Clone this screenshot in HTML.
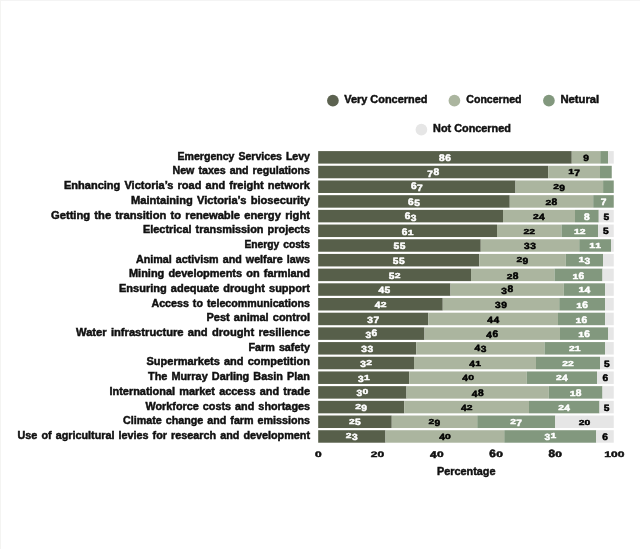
<!DOCTYPE html>
<html><head><meta charset="utf-8"><title>Chart</title>
<style>
html,body{margin:0;padding:0;background:#fff;}
body{width:640px;height:549px;overflow:hidden;}
svg{display:block;will-change:transform;}
text{font-family:"Liberation Sans",sans-serif;font-weight:bold;}
.l{font-size:10.0px;fill:#111;stroke:#111;stroke-width:0.45px;word-spacing:1.0px;}
.g{font-size:10.6px;fill:#111;stroke:#111;stroke-width:0.45px;}
.d{font-size:10px;text-rendering:geometricPrecision;text-anchor:middle;stroke-width:0.55px;stroke-linejoin:round;}
</style></head><body>
<svg width="640" height="549" viewBox="0 0 640 549">
<rect width="640" height="549" fill="#ffffff"/>
<rect x="0" y="0" width="640" height="1" fill="#f4f4f4"/>
<rect x="0" y="0" width="1" height="549" fill="#f4f4f2"/>
<g>
<circle cx="332.9" cy="100.7" r="5.85" fill="#5c6250"/>
<text class="g" x="344.2" y="103" textLength="83.3" lengthAdjust="spacingAndGlyphs">Very Concerned</text>
<circle cx="454.4" cy="100.7" r="5.85" fill="#abb59f"/>
<text class="g" x="466.3" y="103" textLength="55.2" lengthAdjust="spacingAndGlyphs">Concerned</text>
<circle cx="548.9" cy="100.7" r="5.85" fill="#82987e"/>
<text class="g" x="560.4" y="103" textLength="38.8" lengthAdjust="spacingAndGlyphs">Netural</text>
<circle cx="421.4" cy="129.7" r="5.85" fill="#e6e6e6"/>
<text class="g" x="433.1" y="132" textLength="77.8" lengthAdjust="spacingAndGlyphs">Not Concerned</text>
<rect x="318.20" y="151.10" width="253.55" height="12.50" fill="#575f4a"/>
<rect x="571.75" y="151.10" width="28.50" height="12.50" fill="#abb59f"/>
<rect x="600.25" y="151.10" width="7.85" height="12.50" fill="#82987e"/>
<rect x="608.10" y="151.10" width="5.65" height="12.50" fill="#e6e6e6"/>
<text class="l" x="177.50" y="159.80" textLength="132.50" lengthAdjust="spacingAndGlyphs">Emergency Services Levy</text>
<text class="d" transform="translate(441.88,161) scale(1.020,0.960)" fill="#fff" stroke="#fff" stroke-width="0.6">8</text><text class="d" transform="translate(448.08,161) scale(1.020,0.960)" fill="#fff" stroke="#fff" stroke-width="0.6">6</text>
<text class="d" transform="translate(586.00,161) scale(1.020,0.900)" fill="#000" stroke="#000" stroke-width="0.6">9</text>
<rect x="318.20" y="165.79" width="230.05" height="12.50" fill="#575f4a"/>
<rect x="548.25" y="165.79" width="51.75" height="12.50" fill="#abb59f"/>
<rect x="600.00" y="165.79" width="11.75" height="12.50" fill="#82987e"/>
<text class="l" x="172.50" y="174.49" textLength="137.50" lengthAdjust="spacingAndGlyphs">New taxes and regulations</text>
<text class="d" transform="translate(430.13,177) scale(1.020,0.900)" fill="#fff" stroke="#fff" stroke-width="0.6">7</text><text class="d" transform="translate(436.33,175) scale(1.020,0.960)" fill="#fff" stroke="#fff" stroke-width="0.6">8</text>
<text class="d" transform="translate(571.02,174) scale(1.040,0.720)" fill="#000" stroke="#000" stroke-width="0.85">1</text><text class="d" transform="translate(577.02,176) scale(1.020,0.900)" fill="#000" stroke="#000" stroke-width="0.6">7</text>
<rect x="318.20" y="180.48" width="197.30" height="12.50" fill="#575f4a"/>
<rect x="515.50" y="180.48" width="87.60" height="12.50" fill="#abb59f"/>
<rect x="603.10" y="180.48" width="10.65" height="12.50" fill="#82987e"/>
<text class="l" x="64.00" y="189.18" textLength="246.00" lengthAdjust="spacingAndGlyphs">Enhancing Victoria’s road and freight network</text>
<text class="d" transform="translate(413.75,189) scale(1.020,0.960)" fill="#fff" stroke="#fff" stroke-width="0.6">6</text><text class="d" transform="translate(419.95,191) scale(1.020,0.900)" fill="#fff" stroke="#fff" stroke-width="0.6">7</text>
<text class="d" transform="translate(556.20,189) scale(1.040,0.720)" fill="#000" stroke="#000" stroke-width="0.85">2</text><text class="d" transform="translate(562.20,191) scale(1.020,0.900)" fill="#000" stroke="#000" stroke-width="0.6">9</text>
<rect x="318.20" y="195.17" width="191.55" height="12.50" fill="#575f4a"/>
<rect x="509.75" y="195.17" width="83.45" height="12.50" fill="#abb59f"/>
<rect x="593.20" y="195.17" width="20.55" height="12.50" fill="#82987e"/>
<text class="l" x="131.00" y="203.87" textLength="179.00" lengthAdjust="spacingAndGlyphs">Maintaining Victoria’s biosecurity</text>
<text class="d" transform="translate(410.88,205) scale(1.020,0.960)" fill="#fff" stroke="#fff" stroke-width="0.6">6</text><text class="d" transform="translate(417.08,206) scale(1.020,0.900)" fill="#fff" stroke="#fff" stroke-width="0.6">5</text>
<text class="d" transform="translate(548.38,205) scale(1.040,0.720)" fill="#000" stroke="#000" stroke-width="0.85">2</text><text class="d" transform="translate(554.38,205) scale(1.020,0.960)" fill="#000" stroke="#000" stroke-width="0.6">8</text>
<text class="d" transform="translate(603.48,205) scale(1.020,0.900)" fill="#fff" stroke="#fff" stroke-width="0.6">7</text>
<rect x="318.20" y="209.86" width="184.80" height="12.50" fill="#575f4a"/>
<rect x="503.00" y="209.86" width="72.00" height="12.50" fill="#abb59f"/>
<rect x="575.00" y="209.86" width="23.75" height="12.50" fill="#82987e"/>
<rect x="598.75" y="209.86" width="15.00" height="12.50" fill="#e6e6e6"/>
<text class="l" x="51.00" y="218.56" textLength="259.00" lengthAdjust="spacingAndGlyphs">Getting the transition to renewable energy right</text>
<text class="d" transform="translate(407.50,219) scale(1.020,0.960)" fill="#fff" stroke="#fff" stroke-width="0.6">6</text><text class="d" transform="translate(413.70,221) scale(1.020,0.900)" fill="#fff" stroke="#fff" stroke-width="0.6">3</text>
<text class="d" transform="translate(535.90,219) scale(1.040,0.720)" fill="#000" stroke="#000" stroke-width="0.85">2</text><text class="d" transform="translate(541.90,220) scale(1.020,0.900)" fill="#000" stroke="#000" stroke-width="0.6">4</text>
<text class="d" transform="translate(586.88,220) scale(1.020,0.960)" fill="#fff" stroke="#fff" stroke-width="0.6">8</text>
<text class="d" transform="translate(606.25,220) scale(1.020,0.900)" fill="#000" stroke="#000" stroke-width="0.6">5</text>
<rect x="318.20" y="224.55" width="178.80" height="12.50" fill="#575f4a"/>
<rect x="497.00" y="224.55" width="64.50" height="12.50" fill="#abb59f"/>
<rect x="561.50" y="224.55" width="36.50" height="12.50" fill="#82987e"/>
<rect x="598.00" y="224.55" width="15.75" height="12.50" fill="#e6e6e6"/>
<text class="l" x="143.00" y="233.25" textLength="167.00" lengthAdjust="spacingAndGlyphs">Electrical transmission projects</text>
<text class="d" transform="translate(404.70,235) scale(1.020,0.960)" fill="#fff" stroke="#fff" stroke-width="0.6">6</text><text class="d" transform="translate(410.70,235) scale(1.040,0.720)" fill="#fff" stroke="#fff" stroke-width="0.85">1</text>
<text class="d" transform="translate(526.35,234) scale(1.040,0.720)" fill="#000" stroke="#000" stroke-width="0.85">2</text><text class="d" transform="translate(532.15,234) scale(1.040,0.720)" fill="#000" stroke="#000" stroke-width="0.85">2</text>
<text class="d" transform="translate(576.85,234) scale(1.040,0.720)" fill="#fff" stroke="#fff" stroke-width="0.85">1</text><text class="d" transform="translate(582.65,234) scale(1.040,0.720)" fill="#fff" stroke="#fff" stroke-width="0.85">2</text>
<text class="d" transform="translate(605.88,234) scale(1.020,0.900)" fill="#000" stroke="#000" stroke-width="0.6">5</text>
<rect x="318.20" y="239.24" width="162.55" height="12.50" fill="#575f4a"/>
<rect x="480.75" y="239.24" width="98.50" height="12.50" fill="#abb59f"/>
<rect x="579.25" y="239.24" width="31.75" height="12.50" fill="#82987e"/>
<rect x="611.00" y="239.24" width="2.75" height="12.50" fill="#e6e6e6"/>
<text class="l" x="244.50" y="247.94" textLength="65.50" lengthAdjust="spacingAndGlyphs">Energy costs</text>
<text class="d" transform="translate(396.38,249) scale(1.020,0.900)" fill="#fff" stroke="#fff" stroke-width="0.6">5</text><text class="d" transform="translate(402.58,249) scale(1.020,0.900)" fill="#fff" stroke="#fff" stroke-width="0.6">5</text>
<text class="d" transform="translate(526.90,249) scale(1.020,0.900)" fill="#000" stroke="#000" stroke-width="0.6">3</text><text class="d" transform="translate(533.10,249) scale(1.020,0.900)" fill="#000" stroke="#000" stroke-width="0.6">3</text>
<text class="d" transform="translate(592.23,248) scale(1.040,0.720)" fill="#fff" stroke="#fff" stroke-width="0.85">1</text><text class="d" transform="translate(598.02,248) scale(1.040,0.720)" fill="#fff" stroke="#fff" stroke-width="0.85">1</text>
<rect x="318.20" y="253.93" width="161.05" height="12.50" fill="#575f4a"/>
<rect x="479.25" y="253.93" width="86.50" height="12.50" fill="#abb59f"/>
<rect x="565.75" y="253.93" width="37.25" height="12.50" fill="#82987e"/>
<rect x="603.00" y="253.93" width="10.75" height="12.50" fill="#e6e6e6"/>
<text class="l" x="136.00" y="262.63" textLength="174.00" lengthAdjust="spacingAndGlyphs">Animal activism and welfare laws</text>
<text class="d" transform="translate(395.63,264) scale(1.020,0.900)" fill="#fff" stroke="#fff" stroke-width="0.6">5</text><text class="d" transform="translate(401.83,264) scale(1.020,0.900)" fill="#fff" stroke="#fff" stroke-width="0.6">5</text>
<text class="d" transform="translate(519.40,262) scale(1.040,0.720)" fill="#000" stroke="#000" stroke-width="0.85">2</text><text class="d" transform="translate(525.40,264) scale(1.020,0.900)" fill="#000" stroke="#000" stroke-width="0.6">9</text>
<text class="d" transform="translate(581.27,262) scale(1.040,0.720)" fill="#fff" stroke="#fff" stroke-width="0.85">1</text><text class="d" transform="translate(587.27,264) scale(1.020,0.900)" fill="#fff" stroke="#fff" stroke-width="0.6">3</text>
<rect x="318.20" y="268.62" width="152.80" height="12.50" fill="#575f4a"/>
<rect x="471.00" y="268.62" width="83.50" height="12.50" fill="#abb59f"/>
<rect x="554.50" y="268.62" width="48.00" height="12.50" fill="#82987e"/>
<rect x="602.50" y="268.62" width="11.25" height="12.50" fill="#e6e6e6"/>
<text class="l" x="129.00" y="277.32" textLength="181.00" lengthAdjust="spacingAndGlyphs">Mining developments on farmland</text>
<text class="d" transform="translate(391.70,279) scale(1.020,0.900)" fill="#fff" stroke="#fff" stroke-width="0.6">5</text><text class="d" transform="translate(397.70,278) scale(1.040,0.720)" fill="#fff" stroke="#fff" stroke-width="0.85">2</text>
<text class="d" transform="translate(509.65,279) scale(1.040,0.720)" fill="#000" stroke="#000" stroke-width="0.85">2</text><text class="d" transform="translate(515.65,279) scale(1.020,0.960)" fill="#000" stroke="#000" stroke-width="0.6">8</text>
<text class="d" transform="translate(575.40,279) scale(1.040,0.720)" fill="#fff" stroke="#fff" stroke-width="0.85">1</text><text class="d" transform="translate(581.40,279) scale(1.020,0.960)" fill="#fff" stroke="#fff" stroke-width="0.6">6</text>
<rect x="318.20" y="283.31" width="132.30" height="12.50" fill="#575f4a"/>
<rect x="450.50" y="283.31" width="113.25" height="12.50" fill="#abb59f"/>
<rect x="563.75" y="283.31" width="41.35" height="12.50" fill="#82987e"/>
<rect x="605.10" y="283.31" width="8.65" height="12.50" fill="#e6e6e6"/>
<text class="l" x="119.00" y="292.01" textLength="191.00" lengthAdjust="spacingAndGlyphs">Ensuring adequate drought support</text>
<text class="d" transform="translate(381.25,293) scale(1.020,0.900)" fill="#fff" stroke="#fff" stroke-width="0.6">4</text><text class="d" transform="translate(387.45,293) scale(1.020,0.900)" fill="#fff" stroke="#fff" stroke-width="0.6">5</text>
<text class="d" transform="translate(504.03,294) scale(1.020,0.900)" fill="#000" stroke="#000" stroke-width="0.6">3</text><text class="d" transform="translate(510.23,292) scale(1.020,0.960)" fill="#000" stroke="#000" stroke-width="0.6">8</text>
<text class="d" transform="translate(581.32,292) scale(1.040,0.720)" fill="#fff" stroke="#fff" stroke-width="0.85">1</text><text class="d" transform="translate(587.32,293) scale(1.020,0.900)" fill="#fff" stroke="#fff" stroke-width="0.6">4</text>
<rect x="318.20" y="298.00" width="124.55" height="12.50" fill="#575f4a"/>
<rect x="442.75" y="298.00" width="116.50" height="12.50" fill="#abb59f"/>
<rect x="559.25" y="298.00" width="45.85" height="12.50" fill="#82987e"/>
<rect x="605.10" y="298.00" width="8.65" height="12.50" fill="#e6e6e6"/>
<text class="l" x="151.50" y="306.70" textLength="158.50" lengthAdjust="spacingAndGlyphs">Access to telecommunications</text>
<text class="d" transform="translate(377.58,308) scale(1.020,0.900)" fill="#fff" stroke="#fff" stroke-width="0.6">4</text><text class="d" transform="translate(383.57,307) scale(1.040,0.720)" fill="#fff" stroke="#fff" stroke-width="0.85">2</text>
<text class="d" transform="translate(497.90,308) scale(1.020,0.900)" fill="#000" stroke="#000" stroke-width="0.6">3</text><text class="d" transform="translate(504.10,308) scale(1.020,0.900)" fill="#000" stroke="#000" stroke-width="0.6">9</text>
<text class="d" transform="translate(579.07,308) scale(1.040,0.720)" fill="#fff" stroke="#fff" stroke-width="0.85">1</text><text class="d" transform="translate(585.07,308) scale(1.020,0.960)" fill="#fff" stroke="#fff" stroke-width="0.6">6</text>
<rect x="318.20" y="312.69" width="110.05" height="12.50" fill="#575f4a"/>
<rect x="428.25" y="312.69" width="129.75" height="12.50" fill="#abb59f"/>
<rect x="558.00" y="312.69" width="47.10" height="12.50" fill="#82987e"/>
<rect x="605.10" y="312.69" width="8.65" height="12.50" fill="#e6e6e6"/>
<text class="l" x="206.50" y="321.39" textLength="103.50" lengthAdjust="spacingAndGlyphs">Pest animal control</text>
<text class="d" transform="translate(370.13,323) scale(1.020,0.900)" fill="#fff" stroke="#fff" stroke-width="0.6">3</text><text class="d" transform="translate(376.33,323) scale(1.020,0.900)" fill="#fff" stroke="#fff" stroke-width="0.6">7</text>
<text class="d" transform="translate(490.03,323) scale(1.020,0.900)" fill="#000" stroke="#000" stroke-width="0.6">4</text><text class="d" transform="translate(496.23,323) scale(1.020,0.900)" fill="#000" stroke="#000" stroke-width="0.6">4</text>
<text class="d" transform="translate(578.45,323) scale(1.040,0.720)" fill="#fff" stroke="#fff" stroke-width="0.85">1</text><text class="d" transform="translate(584.45,323) scale(1.020,0.960)" fill="#fff" stroke="#fff" stroke-width="0.6">6</text>
<rect x="318.20" y="327.38" width="106.30" height="12.50" fill="#575f4a"/>
<rect x="424.50" y="327.38" width="135.50" height="12.50" fill="#abb59f"/>
<rect x="560.00" y="327.38" width="48.25" height="12.50" fill="#82987e"/>
<rect x="608.25" y="327.38" width="5.50" height="12.50" fill="#e6e6e6"/>
<text class="l" x="76.00" y="336.08" textLength="234.00" lengthAdjust="spacingAndGlyphs">Water infrastructure and drought resilience</text>
<text class="d" transform="translate(368.25,338) scale(1.020,0.900)" fill="#fff" stroke="#fff" stroke-width="0.6">3</text><text class="d" transform="translate(374.45,336) scale(1.020,0.960)" fill="#fff" stroke="#fff" stroke-width="0.6">6</text>
<text class="d" transform="translate(489.15,338) scale(1.020,0.900)" fill="#000" stroke="#000" stroke-width="0.6">4</text><text class="d" transform="translate(495.35,337) scale(1.020,0.960)" fill="#000" stroke="#000" stroke-width="0.6">6</text>
<text class="d" transform="translate(581.02,337) scale(1.040,0.720)" fill="#fff" stroke="#fff" stroke-width="0.85">1</text><text class="d" transform="translate(587.02,337) scale(1.020,0.960)" fill="#fff" stroke="#fff" stroke-width="0.6">6</text>
<rect x="318.20" y="342.07" width="98.05" height="12.50" fill="#575f4a"/>
<rect x="416.25" y="342.07" width="128.25" height="12.50" fill="#abb59f"/>
<rect x="544.50" y="342.07" width="60.50" height="12.50" fill="#82987e"/>
<rect x="605.00" y="342.07" width="8.75" height="12.50" fill="#e6e6e6"/>
<text class="l" x="248.50" y="350.77" textLength="61.50" lengthAdjust="spacingAndGlyphs">Farm safety</text>
<text class="d" transform="translate(364.13,352) scale(1.020,0.900)" fill="#fff" stroke="#fff" stroke-width="0.6">3</text><text class="d" transform="translate(370.33,352) scale(1.020,0.900)" fill="#fff" stroke="#fff" stroke-width="0.6">3</text>
<text class="d" transform="translate(477.28,351) scale(1.020,0.900)" fill="#000" stroke="#000" stroke-width="0.6">4</text><text class="d" transform="translate(483.48,352) scale(1.020,0.900)" fill="#000" stroke="#000" stroke-width="0.6">3</text>
<text class="d" transform="translate(571.85,351) scale(1.040,0.720)" fill="#fff" stroke="#fff" stroke-width="0.85">2</text><text class="d" transform="translate(577.65,351) scale(1.040,0.720)" fill="#fff" stroke="#fff" stroke-width="0.85">1</text>
<rect x="318.20" y="356.76" width="95.80" height="12.50" fill="#575f4a"/>
<rect x="414.00" y="356.76" width="122.00" height="12.50" fill="#abb59f"/>
<rect x="536.00" y="356.76" width="64.00" height="12.50" fill="#82987e"/>
<rect x="600.00" y="356.76" width="13.75" height="12.50" fill="#e6e6e6"/>
<text class="l" x="146.50" y="365.46" textLength="163.50" lengthAdjust="spacingAndGlyphs">Supermarkets and competition</text>
<text class="d" transform="translate(363.20,367) scale(1.020,0.900)" fill="#fff" stroke="#fff" stroke-width="0.6">3</text><text class="d" transform="translate(369.20,365) scale(1.040,0.720)" fill="#fff" stroke="#fff" stroke-width="0.85">2</text>
<text class="d" transform="translate(472.10,367) scale(1.020,0.900)" fill="#000" stroke="#000" stroke-width="0.6">4</text><text class="d" transform="translate(478.10,366) scale(1.040,0.720)" fill="#000" stroke="#000" stroke-width="0.85">1</text>
<text class="d" transform="translate(565.10,366) scale(1.040,0.720)" fill="#fff" stroke="#fff" stroke-width="0.85">2</text><text class="d" transform="translate(570.90,366) scale(1.040,0.720)" fill="#fff" stroke="#fff" stroke-width="0.85">2</text>
<text class="d" transform="translate(606.88,367) scale(1.020,0.900)" fill="#000" stroke="#000" stroke-width="0.6">5</text>
<rect x="318.20" y="371.45" width="91.05" height="12.50" fill="#575f4a"/>
<rect x="409.25" y="371.45" width="117.50" height="12.50" fill="#abb59f"/>
<rect x="526.75" y="371.45" width="70.25" height="12.50" fill="#82987e"/>
<rect x="597.00" y="371.45" width="16.75" height="12.50" fill="#e6e6e6"/>
<text class="l" x="148.00" y="380.15" textLength="162.00" lengthAdjust="spacingAndGlyphs">The Murray Darling Basin Plan</text>
<text class="d" transform="translate(360.83,382) scale(1.020,0.900)" fill="#fff" stroke="#fff" stroke-width="0.6">3</text><text class="d" transform="translate(366.82,380) scale(1.040,0.720)" fill="#fff" stroke="#fff" stroke-width="0.85">1</text>
<text class="d" transform="translate(465.10,381) scale(1.020,0.900)" fill="#000" stroke="#000" stroke-width="0.6">4</text><text class="d" transform="translate(471.10,380) scale(1.040,0.720)" fill="#000" stroke="#000" stroke-width="0.85">0</text>
<text class="d" transform="translate(558.77,380) scale(1.040,0.720)" fill="#fff" stroke="#fff" stroke-width="0.85">2</text><text class="d" transform="translate(564.77,381) scale(1.020,0.900)" fill="#fff" stroke="#fff" stroke-width="0.6">4</text>
<text class="d" transform="translate(605.38,381) scale(1.020,0.960)" fill="#000" stroke="#000" stroke-width="0.6">6</text>
<rect x="318.20" y="386.14" width="88.30" height="12.50" fill="#575f4a"/>
<rect x="406.50" y="386.14" width="142.25" height="12.50" fill="#abb59f"/>
<rect x="548.75" y="386.14" width="53.75" height="12.50" fill="#82987e"/>
<rect x="602.50" y="386.14" width="11.25" height="12.50" fill="#e6e6e6"/>
<text class="l" x="109.50" y="394.84" textLength="200.50" lengthAdjust="spacingAndGlyphs">International market access and trade</text>
<text class="d" transform="translate(359.45,396) scale(1.020,0.900)" fill="#fff" stroke="#fff" stroke-width="0.6">3</text><text class="d" transform="translate(365.45,394) scale(1.040,0.720)" fill="#fff" stroke="#fff" stroke-width="0.85">0</text>
<text class="d" transform="translate(474.53,397) scale(1.020,0.900)" fill="#000" stroke="#000" stroke-width="0.6">4</text><text class="d" transform="translate(480.73,396) scale(1.020,0.960)" fill="#000" stroke="#000" stroke-width="0.6">8</text>
<text class="d" transform="translate(572.52,396) scale(1.040,0.720)" fill="#fff" stroke="#fff" stroke-width="0.85">1</text><text class="d" transform="translate(578.52,396) scale(1.020,0.960)" fill="#fff" stroke="#fff" stroke-width="0.6">8</text>
<rect x="318.20" y="400.83" width="86.05" height="12.50" fill="#575f4a"/>
<rect x="404.25" y="400.83" width="124.75" height="12.50" fill="#abb59f"/>
<rect x="529.00" y="400.83" width="70.50" height="12.50" fill="#82987e"/>
<rect x="599.50" y="400.83" width="14.25" height="12.50" fill="#e6e6e6"/>
<text class="l" x="145.50" y="409.53" textLength="164.50" lengthAdjust="spacingAndGlyphs">Workforce costs and shortages</text>
<text class="d" transform="translate(358.12,409) scale(1.040,0.720)" fill="#fff" stroke="#fff" stroke-width="0.85">2</text><text class="d" transform="translate(364.13,411) scale(1.020,0.900)" fill="#fff" stroke="#fff" stroke-width="0.6">9</text>
<text class="d" transform="translate(463.73,411) scale(1.020,0.900)" fill="#000" stroke="#000" stroke-width="0.6">4</text><text class="d" transform="translate(469.72,410) scale(1.040,0.720)" fill="#000" stroke="#000" stroke-width="0.85">2</text>
<text class="d" transform="translate(561.15,410) scale(1.040,0.720)" fill="#fff" stroke="#fff" stroke-width="0.85">2</text><text class="d" transform="translate(567.15,411) scale(1.020,0.900)" fill="#fff" stroke="#fff" stroke-width="0.6">4</text>
<text class="d" transform="translate(606.62,411) scale(1.020,0.900)" fill="#000" stroke="#000" stroke-width="0.6">5</text>
<rect x="318.20" y="415.52" width="73.55" height="12.50" fill="#575f4a"/>
<rect x="391.75" y="415.52" width="85.50" height="12.50" fill="#abb59f"/>
<rect x="477.25" y="415.52" width="78.00" height="12.50" fill="#82987e"/>
<rect x="555.25" y="415.52" width="58.50" height="12.50" fill="#e6e6e6"/>
<text class="l" x="123.00" y="424.22" textLength="187.00" lengthAdjust="spacingAndGlyphs">Climate change and farm emissions</text>
<text class="d" transform="translate(351.88,424) scale(1.040,0.720)" fill="#fff" stroke="#fff" stroke-width="0.85">2</text><text class="d" transform="translate(357.88,425) scale(1.020,0.900)" fill="#fff" stroke="#fff" stroke-width="0.6">5</text>
<text class="d" transform="translate(431.40,424) scale(1.040,0.720)" fill="#000" stroke="#000" stroke-width="0.85">2</text><text class="d" transform="translate(437.40,426) scale(1.020,0.900)" fill="#000" stroke="#000" stroke-width="0.6">9</text>
<text class="d" transform="translate(513.15,424) scale(1.040,0.720)" fill="#fff" stroke="#fff" stroke-width="0.85">2</text><text class="d" transform="translate(519.15,426) scale(1.020,0.900)" fill="#fff" stroke="#fff" stroke-width="0.6">7</text>
<text class="d" transform="translate(581.60,425) scale(1.040,0.720)" fill="#000" stroke="#000" stroke-width="0.85">2</text><text class="d" transform="translate(587.40,425) scale(1.040,0.720)" fill="#000" stroke="#000" stroke-width="0.85">0</text>
<rect x="318.20" y="430.21" width="67.30" height="12.50" fill="#575f4a"/>
<rect x="385.50" y="430.21" width="118.75" height="12.50" fill="#abb59f"/>
<rect x="504.25" y="430.21" width="92.00" height="12.50" fill="#82987e"/>
<rect x="596.25" y="430.21" width="17.50" height="12.50" fill="#e6e6e6"/>
<text class="l" x="17.50" y="438.91" textLength="292.50" lengthAdjust="spacingAndGlyphs">Use of agricultural levies for research and development</text>
<text class="d" transform="translate(348.75,438) scale(1.040,0.720)" fill="#fff" stroke="#fff" stroke-width="0.85">2</text><text class="d" transform="translate(354.75,440) scale(1.020,0.900)" fill="#fff" stroke="#fff" stroke-width="0.6">3</text>
<text class="d" transform="translate(441.98,440) scale(1.020,0.900)" fill="#000" stroke="#000" stroke-width="0.6">4</text><text class="d" transform="translate(447.97,439) scale(1.040,0.720)" fill="#000" stroke="#000" stroke-width="0.85">0</text>
<text class="d" transform="translate(547.35,440) scale(1.020,0.900)" fill="#fff" stroke="#fff" stroke-width="0.6">3</text><text class="d" transform="translate(553.35,438) scale(1.040,0.720)" fill="#fff" stroke="#fff" stroke-width="0.85">1</text>
<text class="d" transform="translate(605.00,440) scale(1.020,0.960)" fill="#000" stroke="#000" stroke-width="0.6">6</text>
<text class="d" transform="translate(318.30,457) scale(1.201,0.792)" fill="#111" stroke="#111" stroke-width="0.85">0</text>
<text class="d" transform="translate(374.15,457) scale(1.201,0.792)" fill="#111" stroke="#111" stroke-width="0.85">2</text><text class="d" transform="translate(380.85,457) scale(1.201,0.792)" fill="#111" stroke="#111" stroke-width="0.85">0</text>
<text class="d" transform="translate(433.35,458) scale(1.178,0.990)" fill="#111" stroke="#111" stroke-width="0.6">4</text><text class="d" transform="translate(440.28,457) scale(1.201,0.792)" fill="#111" stroke="#111" stroke-width="0.85">0</text>
<text class="d" transform="translate(492.55,457) scale(1.178,1.056)" fill="#111" stroke="#111" stroke-width="0.6">6</text><text class="d" transform="translate(499.48,457) scale(1.201,0.792)" fill="#111" stroke="#111" stroke-width="0.85">0</text>
<text class="d" transform="translate(551.75,457) scale(1.178,1.056)" fill="#111" stroke="#111" stroke-width="0.6">8</text><text class="d" transform="translate(558.68,457) scale(1.201,0.792)" fill="#111" stroke="#111" stroke-width="0.85">0</text>
<text class="d" transform="translate(607.60,457) scale(1.201,0.792)" fill="#111" stroke="#111" stroke-width="0.85">1</text><text class="d" transform="translate(614.30,457) scale(1.201,0.792)" fill="#111" stroke="#111" stroke-width="0.85">0</text><text class="d" transform="translate(621.00,457) scale(1.201,0.792)" fill="#111" stroke="#111" stroke-width="0.85">0</text>
<text class="l" x="436.9" y="475" textLength="58.6" lengthAdjust="spacingAndGlyphs" style="font-size:10.6px">Percentage</text>
</g>
</svg>
</body></html>
